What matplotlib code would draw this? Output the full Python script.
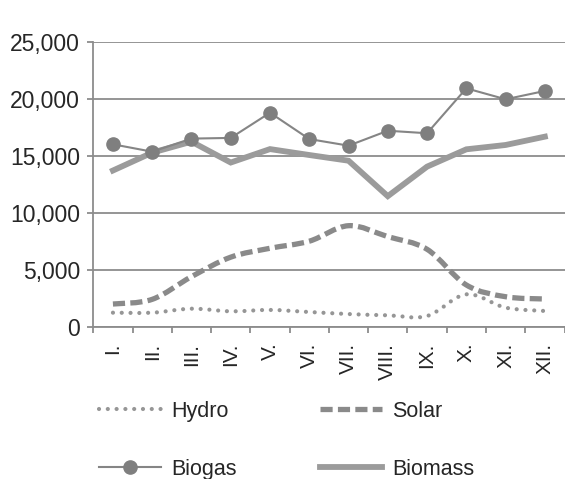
import matplotlib
matplotlib.use("Agg")
import matplotlib.pyplot as plt
import numpy as np
from matplotlib.path import Path
from matplotlib.patches import PathPatch
from matplotlib.lines import Line2D
from matplotlib.ticker import FuncFormatter, FixedLocator

months = ["I.", "II.", "III.", "IV.", "V.", "VI.", "VII.", "VIII.", "IX.", "X.", "XI.", "XII."]
hydro = [1230, 1230, 1580, 1350, 1470, 1290, 1110, 1000, 940, 2840, 1670, 1380]
solar = [1990, 2400, 4390, 6100, 6880, 7500, 8860, 7900, 6790, 3660, 2630, 2430]
biogas = [16000, 15350, 16500, 16560, 18770, 16460, 15880, 17190, 16970, 20910, 19950, 20680]
biomass = [13700, 15270, 16230, 14400, 15580, 15060, 14560, 11450, 14040, 15560, 15940, 16670]
yticks = [0, 5000, 10000, 15000, 20000, 25000]

plt.rcParams['font.family'] = ['Liberation Sans', 'DejaVu Sans']

fig = plt.figure(figsize=(5.65, 4.79), dpi=100)
ax = fig.add_axes([93.3/565, 1-326.7/479, (564.5-93.3)/565, (326.7-41.7)/479])

x = np.arange(len(months)) + 0.5
grid_c = '#8c8c8c'
txt_c = '#262626'


def smooth_path(xs, ys):
    pts = np.column_stack([xs, ys]).astype(float)
    n = len(pts)
    verts = [pts[0]]
    codes = [Path.MOVETO]
    for i in range(n - 1):
        p0 = pts[i - 1] if i > 0 else pts[i]
        p1 = pts[i]
        p2 = pts[i + 1]
        p3 = pts[i + 2] if i + 2 < n else pts[i + 1]
        c1 = p1 + (p2 - p0) / 6.0
        c2 = p2 - (p3 - p1) / 6.0
        verts += [c1, c2, p2]
        codes += [Path.CURVE4] * 3
    return Path(verts, codes)


hydro_c, hydro_lw, hydro_ls = '#969696', 3.0, (0, (0.01, 2.1))
solar_c, solar_lw, solar_ls = '#8a8a8a', 3.8, (0, (2.3, 1.0))

ax.add_patch(PathPatch(smooth_path(x, hydro), facecolor='none', edgecolor=hydro_c,
                       lw=hydro_lw, linestyle=hydro_ls, capstyle='round', zorder=3))
ax.add_patch(PathPatch(smooth_path(x, solar), facecolor='none', edgecolor=solar_c,
                       lw=solar_lw, linestyle=solar_ls, capstyle='butt', zorder=3))
ax.plot(x, biomass, color='#9b9b9b', lw=4.2, solid_joinstyle='miter', zorder=3)
ax.plot(x, biogas, color='#858585', lw=1.5, marker='o', markersize=9.5,
        markerfacecolor='#7f7f7f', markeredgecolor='#7f7f7f', zorder=4)

ax.set_xlim(0, 12)
ax.set_ylim(0, 25000)
ax.set_yticks(yticks)
ax.yaxis.set_major_formatter(FuncFormatter(lambda v, p: f"{int(v):,}"))
ax.grid(axis='y', color=grid_c, lw=1.3)
ax.set_axisbelow(True)
for s in ['top', 'right']:
    ax.spines[s].set_visible(False)
for s in ['left', 'bottom']:
    ax.spines[s].set_color(grid_c)
    ax.spines[s].set_linewidth(1.3)

ax.xaxis.set_major_locator(FixedLocator(np.arange(0, 13)))
ax.xaxis.set_major_formatter(FuncFormatter(lambda v, p: ""))
ax.xaxis.set_minor_locator(FixedLocator(x))
ax.set_xticks(x, minor=True)
ax.set_xticklabels(months, minor=True, rotation=90, va='top', ha='center',
                   fontsize=15, color=txt_c)
ax.tick_params(axis='x', which='major', length=4.5, width=1.3, color=grid_c, direction='out')
ax.tick_params(axis='x', which='minor', length=0, pad=11.5)
ax.tick_params(axis='y', length=4.5, width=1.3, color=grid_c, labelsize=16.5,
               labelcolor=txt_c, pad=5)

handles = [
    Line2D([], [], color=hydro_c, lw=hydro_lw, linestyle=hydro_ls, dash_capstyle='round'),
    Line2D([], [], color='#858585', lw=1.5, marker='o', markersize=9.5,
           markerfacecolor='#7f7f7f', markeredgecolor='#7f7f7f'),
    Line2D([], [], color=solar_c, lw=solar_lw, linestyle=solar_ls),
    Line2D([], [], color='#9b9b9b', lw=4.2),
]
labels = ["Hydro", "Biogas", "Solar", "Biomass"]
fig.legend(handles, labels, ncol=2, loc='upper left',
           bbox_to_anchor=(99/565, 1-401/479), frameon=False,
           fontsize=15.5, handlelength=2.9, handletextpad=0.47,
           columnspacing=3.85, labelspacing=1.72, borderaxespad=0,
           borderpad=0, labelcolor=txt_c)

fig.savefig("out.png", dpi=100)
